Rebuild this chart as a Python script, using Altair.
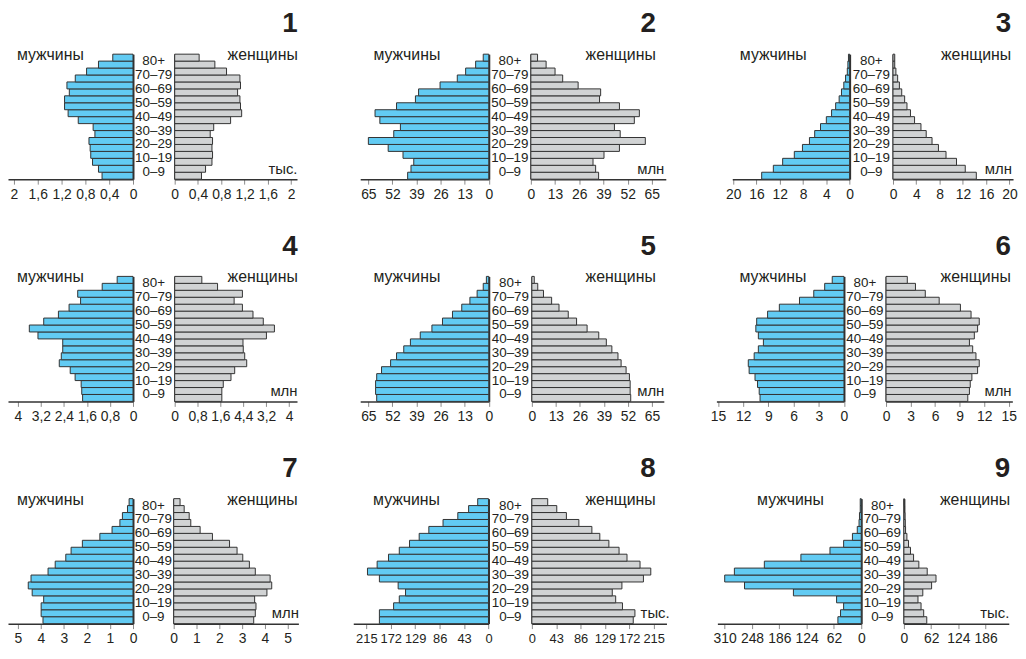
import altair as alt
import pandas as pd

# ---------------- data ----------------
AGES = ["0–9", "10–19", "20–29", "30–39", "40–49", "50–59", "60–69", "70–79", "80+"]

# 18 five-year bars per pyramid, from the youngest (bottom) to the oldest (top)
MEN_1 = [0.52, 0.58, 0.68, 0.71, 0.72, 0.74, 0.64, 0.67, 0.92, 1.09, 1.15, 1.15, 1.07, 1.11, 0.97, 0.78, 0.58, 0.34]
WOMEN_1 = [0.46, 0.53, 0.64, 0.65, 0.64, 0.65, 0.61, 0.67, 0.96, 1.15, 1.13, 1.12, 1.08, 1.13, 1.12, 0.89, 0.69, 0.42]

MEN_2 = [43.8, 42.0, 40.5, 46.3, 54.3, 65.0, 51.3, 47.7, 58.8, 61.4, 49.8, 39.6, 37.9, 26.3, 17.0, 12.5, 7.1, 3.0]
WOMEN_2 = [36.4, 34.8, 33.4, 39.3, 47.6, 61.5, 48.0, 44.9, 55.6, 58.3, 47.6, 36.9, 37.5, 25.4, 17.1, 13.0, 8.2, 3.6]

MEN_3 = [15.1, 13.1, 11.5, 9.5, 8.1, 6.9, 6.0, 5.0, 4.0, 3.1, 2.4, 1.8, 1.4, 1.0, 0.7, 0.4, 0.3, 0.2]
WOMEN_3 = [14.3, 12.4, 10.9, 9.1, 7.8, 6.7, 5.7, 4.8, 3.7, 3.0, 2.4, 2.0, 1.5, 1.1, 0.8, 0.5, 0.3, 0.3]

MEN_4 = [1.75, 1.78, 1.80, 2.01, 2.18, 2.56, 2.49, 2.44, 2.44, 3.30, 3.60, 3.10, 2.59, 2.22, 1.82, 1.92, 1.07, 0.55]
WOMEN_4 = [1.65, 1.65, 1.70, 1.97, 2.10, 2.52, 2.45, 2.40, 2.39, 3.21, 3.49, 3.10, 2.74, 2.37, 2.08, 2.37, 1.50, 0.95]

MEN_5 = [60.5, 61.1, 61.1, 60.5, 57.9, 53.0, 49.8, 45.9, 42.3, 37.0, 30.7, 25.0, 19.6, 14.6, 10.2, 6.3, 3.0, 1.3]
WOMEN_5 = [53.5, 53.2, 53.2, 52.8, 51.0, 48.3, 46.6, 43.3, 40.3, 36.2, 29.9, 24.2, 19.7, 14.7, 10.7, 6.3, 3.2, 1.3]

MEN_6 = [10.0, 10.1, 10.3, 10.6, 11.3, 11.4, 10.7, 10.2, 9.6, 10.2, 10.5, 10.4, 9.1, 7.7, 5.3, 3.6, 2.3, 1.4]
WOMEN_6 = [10.0, 10.2, 10.3, 10.5, 11.2, 11.4, 11.0, 10.6, 10.2, 10.8, 11.2, 11.4, 10.4, 9.1, 6.5, 4.8, 3.6, 2.6]

MEN_7 = [3.91, 3.99, 3.99, 3.88, 4.38, 4.55, 4.43, 3.69, 3.38, 2.92, 2.69, 2.20, 1.44, 0.91, 0.57, 0.46, 0.24, 0.17]
WOMEN_7 = [3.51, 3.58, 3.61, 3.55, 4.09, 4.30, 4.23, 3.58, 3.32, 3.03, 2.78, 2.45, 1.70, 1.16, 0.75, 0.68, 0.46, 0.28]

MEN_8 = [192, 192, 167, 157, 146, 159, 192, 213, 196, 176, 157, 139, 122, 105, 80, 54, 35, 19]
WOMEN_8 = [179, 182, 160, 148, 142, 159, 197, 210, 191, 168, 154, 136, 120, 106, 83, 61, 44, 28]

MEN_9 = [53, 47, 40, 56, 154, 265, 310, 288, 220, 137, 71, 40, 20, 9, 5, 4, 2.3, 2.3]
WOMEN_9 = [52, 45, 39, 32, 43, 63, 73, 53, 34, 22, 15, 10.5, 6.8, 3.8, 3.0, 2.3, 1.5, 0.8]

TICKS_1 = [0, 0.4, 0.8, 1.2, 1.6, 2]
TICKS_2 = [0, 13, 26, 39, 52, 65]
TICKS_3 = [0, 4, 8, 12, 16, 20]
TICKS_4 = [0, 0.8, 1.6, 2.4, 3.2, 4]
TICKS_6 = [0, 3, 6, 9, 12, 15]
TICKS_7 = [0, 1, 2, 3, 4, 5]
TICKS_8 = [0, 43, 86, 129, 172, 215]
TICKS_9L = [0, 62, 124, 186, 248, 310]
TICKS_9R = [0, 62, 124, 186]

UNITS = ["тыс.", "млн", "млн", "млн", "млн", "млн", "млн", "тыс.", "тыс."]
MEN_LABEL = "мужчины"
WOMEN_LABEL = "женщины"

MEN = [MEN_1, MEN_2, MEN_3, MEN_4, MEN_5, MEN_6, MEN_7, MEN_8, MEN_9]
WOMEN = [WOMEN_1, WOMEN_2, WOMEN_3, WOMEN_4, WOMEN_5, WOMEN_6, WOMEN_7, WOMEN_8, WOMEN_9]
TICKS_L = [TICKS_1, TICKS_2, TICKS_3, TICKS_4, TICKS_2, TICKS_6, TICKS_7, TICKS_8, TICKS_9L]
TICKS_R = [TICKS_1, TICKS_2, TICKS_3, TICKS_4, TICKS_2, TICKS_6, TICKS_7, TICKS_8, TICKS_9R]

# ---------------- layout / style ----------------
# (left width, left max, mid width, right width, right max, men dx, number dx, unit dx, tick font)
LAYOUT = [
    (126.0, 2.1, 41.7, 123.3, 2.1, 9, 0.8, 0, 14),
    (129.6, 69.4, 41.7, 136.0, 72.5, 13.3, -10, -2, 14),
    (118.3, 20.15, 42.3, 121.0, 20.6, 7.6, -1.8, -1.6, 14),
    (126.0, 4.34, 41.7, 123.3, 4.28, 9, 0.8, 0, 14),
    (129.6, 69.4, 42.7, 133.0, 71.4, 13.3, -8, 0, 14),
    (128.6, 15.2, 41.4, 127.3, 15.45, 23.3, -1.5, -1.3, 14),
    (126.0, 5.43, 41.0, 125.7, 5.47, 9, -0.8, 0, 14),
    (136.3, 238, 42.7, 135.7, 237.7, 20, -10.8, 2.7, 13),
    (145.0, 326.6, 42.6, 105.7, 238.5, 40, 1.5, 0, 14),
]
GAPS = [(62.7, 66.7), (62.7, 52.7), (54.3, 51.0)]

H = 126
FONT = "Liberation Sans"
BLUE = "#62cbf3"
GRAY = "#d1d3d4"
STROKE = "#333333"
TXT = "#231f20"
NB = 18


def fmt_expr(special=None):
    base = "replace(format(datum.value, '~g'), '.', ',')"
    if special:
        v, s = special
        return f"abs(datum.value - {v}) < 0.001 ? '{s}' : {base}"
    return base


def x_axis(ticks, expr, fs, **kw):
    return alt.Axis(values=ticks, labelExpr=expr, grid=False, tickSize=5, tickColor="#8a8a8a",
                    tickWidth=1, domainColor=STROKE, domainWidth=1.5, labelFont=FONT,
                    labelFontSize=fs, labelColor=TXT, labelPadding=3.5, labelFlush=False,
                    labelOverlap=False, **kw)


def y_enc(orient):
    return alt.Y("y0:Q", scale=alt.Scale(domain=[0, NB], nice=False, zero=False),
                 axis=alt.Axis(orient=orient, labels=False, ticks=False, grid=False, title=None,
                               domainColor=STROKE, domainWidth=2))


def pyramid(i):
    lw, lmax, mw, rw, rmax, mdx, ndx, udx, fs = LAYOUT[i]
    df = pd.DataFrame({"men": MEN[i], "women": WOMEN[i]})
    df["y0"] = range(NB)
    df["y1"] = df["y0"] + 1

    left = alt.Chart(df).mark_bar(fill=BLUE, stroke=STROKE, strokeWidth=1).encode(
        x=alt.X("men:Q", scale=alt.Scale(domain=[0, lmax], reverse=True, nice=False, zero=True),
                axis=x_axis(TICKS_L[i], fmt_expr(), fs, title=None)),
        x2=alt.X2Datum(0),
        y=y_enc("right"),
        y2="y1:Q",
    ).properties(
        width=lw, height=H,
        title=alt.TitleParams(MEN_LABEL, anchor="start", frame="group", offset=-9.5, dx=mdx,
                              font=FONT, fontSize=16, fontWeight="normal", color=TXT),
    )

    ages = pd.DataFrame({"age": AGES})
    ages["pos"] = [2 * k + 1 for k in range(len(AGES))]
    mid = alt.Chart(ages).mark_text(font=FONT, fontSize=13.5, color=TXT).encode(
        y=alt.Y("pos:Q", scale=alt.Scale(domain=[0, NB], nice=False, zero=False), axis=None),
        x=alt.XDatum(0.5, type="quantitative", scale=alt.Scale(domain=[0, 1]), axis=None),
        text="age:N",
    ).properties(width=mw, height=H)

    special = (2.4, "4,4") if i == 3 else None
    right = alt.Chart(df).mark_bar(fill=GRAY, stroke=STROKE, strokeWidth=1).encode(
        x=alt.X("women:Q", scale=alt.Scale(domain=[0, rmax], nice=False, zero=True),
                axis=x_axis(TICKS_R[i], fmt_expr(special), fs, title=UNITS[i], titleX=rw + udx,
                            titleY=-11, titleAlign="right", titleBaseline="middle",
                            titleFont=FONT, titleFontSize=15, titleFontWeight="normal",
                            titleColor=TXT)),
        x2=alt.X2Datum(0),
        y=y_enc("left"),
        y2="y1:Q",
    ).properties(
        width=rw, height=H,
        title=alt.TitleParams(str(i + 1), subtitle=WOMEN_LABEL, anchor="end", frame="group",
                              offset=-9.5, dx=ndx, font=FONT, fontSize=28, fontWeight="bold",
                              color=TXT, subtitleFont=FONT, subtitleFontSize=16,
                              subtitleColor=TXT, subtitlePadding=9),
    )
    return [left, mid, right]


def spacer(w):
    return alt.Chart(pd.DataFrame({"s": [0]})).mark_point(opacity=0).properties(width=w, height=H)


rows = []
for r in range(3):
    row_items = []
    for c in range(3):
        row_items += pyramid(3 * r + c)
        if c < 2:
            row_items.append(spacer(GAPS[r][c]))
    rows.append(alt.HConcatChart(hconcat=row_items, spacing=0, bounds="flush"))

chart = alt.VConcatChart(vconcat=rows, spacing=31).properties(
    padding={"left": 0, "top": 0, "right": 0, "bottom": -2.5},
).configure_view(stroke=None)

chart.save("out.html", embed_options={"renderer": "svg", "actions": False})
